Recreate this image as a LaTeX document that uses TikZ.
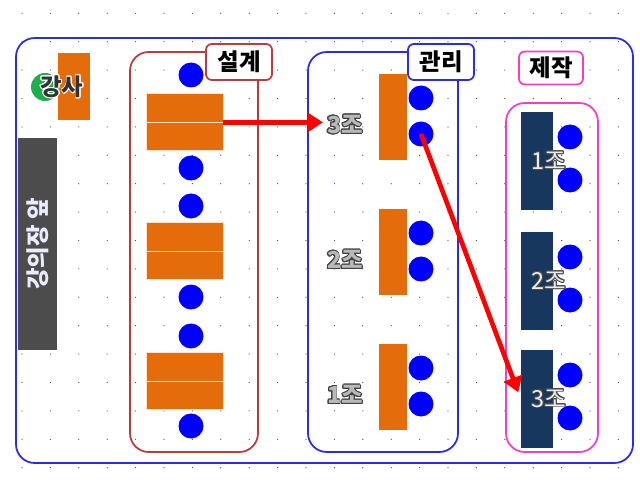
\documentclass[tikz,border=0pt]{standalone}
\usepackage{fontspec}
\setmainfont{Noto Sans CJK KR}
\usepackage[copies]{contour}
\contourlength{0.7pt}
\usetikzlibrary{positioning,arrows.meta}

\definecolor{boxorange}{HTML}{E46C0A}
\definecolor{boxnavy}{HTML}{17375E}
\definecolor{grpred}{HTML}{C0393B}
\definecolor{grpblue}{HTML}{2B2BF0}
\definecolor{grppink}{HTML}{F040C8}
\definecolor{teachgreen}{HTML}{1DAF4E}

\begin{document}
\begin{tikzpicture}[x=0.03cm, y=-0.03cm,
  every node/.style={font=\bfseries\fontsize{20}{22}\selectfont},
  grp/.style={draw, line width=1.5pt, rounded corners=16pt, inner sep=0pt},
  tag/.style={draw, fill=white, line width=1.5pt, rounded corners=5pt,
    minimum width=1.98cm, minimum height=1.08cm, inner sep=0pt},
  seat/.style={circle, fill=blue, minimum size=0.75cm, inner sep=0pt},
  desk/.style={fill=boxorange, draw=white!80!boxorange, line width=0.6pt,
    minimum width=2.31cm, minimum height=0.86cm, inner sep=0pt},
  pole/.style={fill=boxorange, minimum width=0.84cm, minimum height=2.58cm, inner sep=0pt},
  navy/.style={fill=boxnavy, minimum width=0.96cm, minimum height=2.94cm, inner sep=0pt},
  team/.style={text=gray!55},
  arr/.style={red, line width=4pt, -{Triangle[length=13pt,width=16pt]}}]
\useasboundingbox (0,0) rectangle (640,482);
% grid dots
\foreach \i in {0,...,21}
  \foreach \j in {0,...,16}
    \fill[black!70] (22+28.4*\i,13.3+28.4*\j) circle (0.55pt);

% room
\node[grp, draw=grpblue, minimum width=18.51cm, minimum height=12.75cm] (room) at (324.5,250.5) {};
\node[fill=boxorange, minimum width=0.96cm, minimum height=2.01cm, inner sep=0pt] (desk0) at (74,86.5) {};
\node[circle, fill=teachgreen, minimum size=0.84cm, inner sep=0pt] (teacher) at (45,87) {};
\node[text=black!80] (tlabel) at (62,87) {\contour{white}{강사}};
\node[fill=black!70, minimum width=1.17cm, minimum height=6.36cm, inner sep=0pt] (front) at (37.5,244) {};
\node[rotate=90, text=blue!8!white] at (front) {강의장 앞};

% design
\node[grp, draw=grpred, minimum width=3.84cm, minimum height=12cm] (design) at (194,252) {};
\node[tag, draw=grpred] (dtag) at (239,62) {설계};
\foreach \n/\y in {1/122, 2/251, 3/381} {
  \node[desk] (d\n a) at (184.5,\y-14.3) {};
  \node[desk] (d\n b) at (184.5,\y+14.3) {};
}
\foreach \n/\y in {1/75, 2/168, 3/206, 4/297, 5/336, 6/426}
  \node[seat] (ds\n) at (191,\y) {};

% manage
\node[grp, draw=grpblue, minimum width=4.5cm, minimum height=12cm] (manage) at (383,252) {};
\node[tag, draw=grpblue] (mtag) at (441,62) {관리};
\foreach \n/\y in {3/117, 2/252, 1/387} {
  \node[pole] (m\n) at (393,\y) {};
  \node[seat] (m\n a) at (421,\y-19) {};
  \node[seat] (m\n b) at (421,\y+17) {};
  \node[team] (m\n l) at (345,\y+8) {\contour{black!75}{\n 조}};
}

% make
\node[tag, draw=grppink, minimum width=1.92cm, minimum height=0.99cm] (ftag) at (551,68) {제작};
\node[grp, draw=grppink, minimum width=2.76cm, minimum height=10.47cm] (make) at (552,277.5) {};
\foreach \n/\y in {1/161, 2/281, 3/399} {
  \node[navy] (f\n) at (537,\y) {};
  \node[seat] (f\n a) at (570,\y-24) {};
  \node[seat] (f\n b) at (570,\y+19) {};
  \node[text=gray!15, font=\fontsize{20}{22}\selectfont] (f\n l) at (549,\y) {\contour{black!70}{\n 조}};
}

% moves
\draw[arr] (d1a.south east) -- (d1a.south east -| m3l.west);
\draw[arr, shorten >=6pt] (m3b.center) -- (f3.west);
\end{tikzpicture}
\end{document}
